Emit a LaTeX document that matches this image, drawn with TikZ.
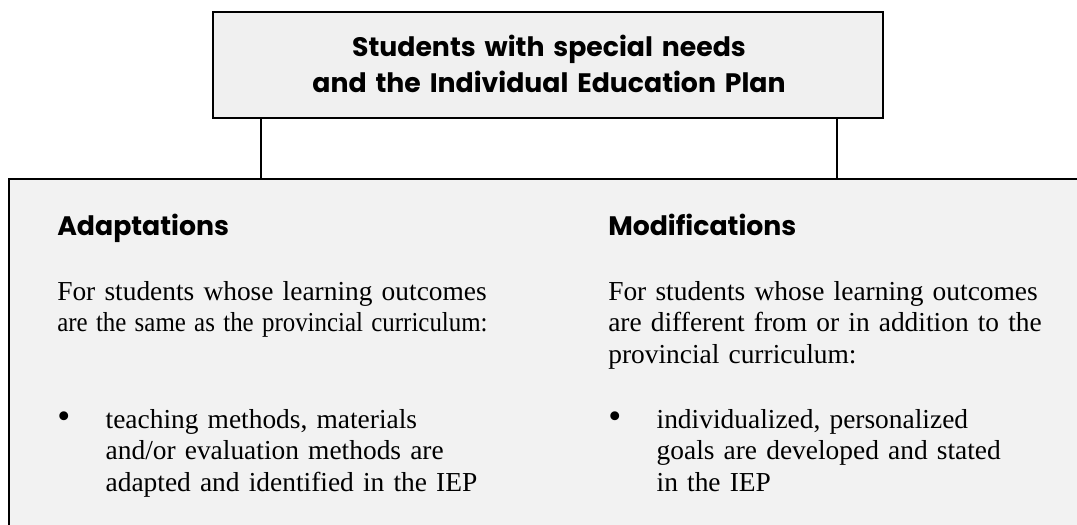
\documentclass[tikz,border=0pt]{standalone}
\usepackage{fontspec}
\setmainfont{Liberation Serif}
\newfontfamily\headfont{Poppins}
\definecolor{boxgray}{HTML}{F0F0F0}
\definecolor{panelgray}{HTML}{F2F2F2}
\newcommand\fullline[1]{\makebox[306pt][s]{#1}}
\newcommand\squeezeline[1]{\resizebox{306pt}{\height}{#1}}
\newcommand\bulletitem[1]{\makebox[34.4pt][l]{\scalebox{1.35}{\textbullet}}\parbox[t]{300pt}{\raggedright #1}}
\begin{document}
\begin{tikzpicture}[x=0.025cm,y=-0.025cm,
    titlebox/.style={draw,line width=1.4pt,fill=boxgray,inner sep=0pt,
      minimum width=16.75cm,minimum height=2.66cm},
    panel/.style={fill=panelgray,inner sep=0pt,anchor=north west,
      minimum width=26.7cm,minimum height=8.65cm},
    titletext/.style={font=\headfont\bfseries\fontsize{19}{25.6}\selectfont,
      text width=16cm,align=center,inner sep=0pt,anchor=base},
    headtext/.style={font=\headfont\bfseries\fontsize{19}{24}\selectfont,
      inner sep=0pt,anchor=base west},
    bodytext/.style={font=\fontsize{19.5}{22.5}\selectfont,
      text width=306pt,inner sep=0pt,anchor=base west}]
  \useasboundingbox (0,0) rectangle (1077,525);
  % boxes
  \node[titlebox] (plan) at (547.7,64.85) {};
  \node[titletext] (title) at (549,57)
    {Students with special needs\\and the Individual Education Plan};
  \node[panel] (outer) at (9.3,179) {};
  \draw[line width=1.2pt] (outer.south west) -- (outer.north west) -- (outer.north east);
  % stems
  \coordinate (adapt-stem) at (261,0);
  \coordinate (modif-stem) at (837,0);
  \draw[line width=1pt] (plan.south -| adapt-stem) -- (adapt-stem |- outer.north);
  \draw[line width=1pt] (plan.south -| modif-stem) -- (modif-stem |- outer.north);
  % left column
  \node[headtext] (adapt) at (57,235) {Adaptations};
  \node[bodytext] (adapt-for) at (57,300)
    {\fullline{For students whose learning outcomes}\\
     \squeezeline{are the same as the provincial curriculum:}};
  \node[bodytext] (adapt-item) at (57,428)
    {\bulletitem{teaching methods, materials\\and/or evaluation methods are\\adapted and identified in the IEP}};
  % right column
  \node[headtext] (modif) at (608,235) {Modifications};
  \node[bodytext] (modif-for) at (608,300)
    {\fullline{For students whose learning outcomes}\\
     \fullline{are different from or in addition to the}\\
     provincial curriculum:};
  \node[bodytext] (modif-item) at (608,428)
    {\bulletitem{individualized, personalized\\goals are developed and stated\\in the IEP}};
\end{tikzpicture}
\end{document}
